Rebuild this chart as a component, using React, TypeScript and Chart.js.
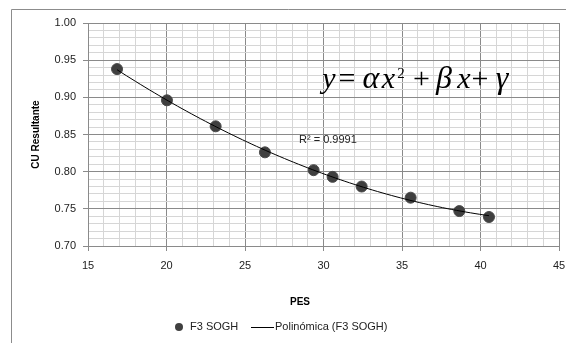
import React, { useEffect, useRef } from "react";
import { Chart, registerables } from "chart.js";

Chart.register(...registerables);

const pesValues: number[] = [16.85, 20.03, 23.13, 26.27, 29.37, 30.58, 32.43, 35.55, 38.65, 40.54];
const cuValues: number[] = [0.938, 0.896, 0.861, 0.826, 0.802, 0.793, 0.780, 0.765, 0.747, 0.739];
const seriesName = "F3 SOGH";
const trendName = "Polinómica (F3 SOGH)";
const r2Label = "R² = 0.9991";
const xTitle = "PES";
const yTitle = "CU Resultante";

// least-squares quadratic fit of the data (Excel polynomial trendline, order 2)
function quadFit(xs: number[], ys: number[]) {
  let s0 = 0, s1 = 0, s2 = 0, s3 = 0, s4 = 0, t0 = 0, t1 = 0, t2 = 0;
  for (let i = 0; i < xs.length; i++) {
    const x = xs[i], y = ys[i];
    s0 += 1; s1 += x; s2 += x * x; s3 += x * x * x; s4 += x * x * x * x;
    t0 += y; t1 += x * y; t2 += x * x * y;
  }
  const M = [
    [s4, s3, s2, t2],
    [s3, s2, s1, t1],
    [s2, s1, s0, t0],
  ];
  for (let c = 0; c < 3; c++) {
    for (let r = c + 1; r < 3; r++) {
      const f = M[r][c] / M[c][c];
      for (let k = c; k < 4; k++) M[r][k] -= f * M[c][k];
    }
  }
  const sol = [0, 0, 0];
  for (let r = 2; r >= 0; r--) {
    let v = M[r][3];
    for (let k = r + 1; k < 3; k++) v -= M[r][k] * sol[k];
    sol[r] = v / M[r][r];
  }
  return sol; // a, b, c
}

const MAJOR = "#8a8a8a";
const MINOR = "#d6d6d6";

// equation glyphs: text, style, centre offset from equation start
const eqGlyphs: [string, string, number][] = [
  ["y", "italic", 10],
  ["=", "op", 28],
  ["\u03B1", "greek", 52],
  ["x", "italic", 69.5],
  ["2", "sup", 82],
  ["+", "op", 102.5],
  ["\u03B2", "greek", 125],
  ["x", "italic", 145],
  ["+", "op", 161],
  ["\u03B3", "greek", 183],
];

const decorPlugin = {
  id: "decor",
  beforeDraw(chart: any) {
    const ctx = chart.ctx;
    ctx.save();
    ctx.fillStyle = "#ffffff";
    ctx.fillRect(0, 0, chart.width, chart.height);
    ctx.strokeStyle = "#8c8c8c";
    ctx.lineWidth = 1;
    ctx.beginPath();
    ctx.moveTo(11.5, chart.height);
    ctx.lineTo(11.5, 9.5);
    ctx.lineTo(chart.width, 9.5);
    ctx.stroke();
    ctx.restore();
  },
  afterDraw(chart: any) {
    const ctx = chart.ctx;
    ctx.save();
    // x axis title
    ctx.fillStyle = "#000";
    ctx.font = "bold 10px 'Liberation Sans', Arial, sans-serif";
    ctx.textAlign = "center";
    ctx.textBaseline = "middle";
    ctx.fillText(xTitle, 300, 302);

    // R² label
    ctx.font = "11px 'Liberation Sans', Arial, sans-serif";
    ctx.textAlign = "left";
    ctx.fillStyle = "#222";
    ctx.fillText(r2Label, 299, 140);

    // equation
    const x0 = 319;
    const base = 88;
    ctx.textBaseline = "alphabetic";
    ctx.textAlign = "center";
    ctx.fillStyle = "#000";
    for (const [t, style, dx] of eqGlyphs) {
      if (style === "sup") {
        ctx.font = "15px 'Liberation Serif', 'Times New Roman', serif";
        ctx.fillText(t, x0 + dx, base - 10);
      } else if (style === "op") {
        ctx.font = "30px 'Liberation Serif', 'Times New Roman', serif";
        ctx.fillText(t, x0 + dx, base);
      } else if (style === "greek") {
        ctx.font = "italic 32px 'Liberation Serif', 'Times New Roman', serif";
        ctx.fillText(t, x0 + dx, base);
      } else {
        ctx.font = "italic 30px 'Liberation Serif', 'Times New Roman', serif";
        ctx.fillText(t, x0 + dx, base);
      }
    }
    ctx.textAlign = "left";

    // legend
    const ly = 327;
    ctx.fillStyle = "#404040";
    ctx.beginPath();
    ctx.arc(179, ly, 4, 0, Math.PI * 2);
    ctx.fill();
    ctx.fillStyle = "#222";
    ctx.font = "11px 'Liberation Sans', Arial, sans-serif";
    ctx.textBaseline = "middle";
    ctx.fillText(seriesName, 190, ly);
    ctx.strokeStyle = "#000";
    ctx.lineWidth = 1;
    ctx.beginPath();
    ctx.moveTo(251, ly + 0.5);
    ctx.lineTo(274, ly + 0.5);
    ctx.stroke();
    ctx.fillText(trendName, 275, ly);
    ctx.restore();
  },
};

export default function App() {
  const ref = useRef<HTMLCanvasElement>(null);
  useEffect(() => {
    if (!ref.current) return;
    const [a, b, c] = quadFit(pesValues, cuValues);
    const xmin = Math.min(...pesValues);
    const xmax = Math.max(...pesValues);
    const trend: { x: number; y: number }[] = [];
    const n = 80;
    for (let i = 0; i <= n; i++) {
      const x = xmin + ((xmax - xmin) * i) / n;
      trend.push({ x, y: a * x * x + b * x + c });
    }
    const points = pesValues.map((x, i) => ({ x, y: cuValues[i] }));
    const chart = new Chart(ref.current, {
      type: "scatter",
      data: {
        datasets: [
          {
            label: trendName,
            data: trend,
            showLine: true,
            borderColor: "#000",
            borderWidth: 1,
            pointRadius: 0,
            order: 0,
          } as any,
          {
            label: seriesName,
            data: points,
            pointRadius: 5.5,
            backgroundColor: "#3f3f3f",
            borderColor: "#4a4a4a",
            borderWidth: 1,
            order: 1,
          },
        ],
      },
      options: {
        animation: false,
        responsive: false,
        devicePixelRatio: 1,
        layout: { padding: { left: 14, top: 23, right: 7, bottom: 0 } },
        plugins: { legend: { display: false }, tooltip: { enabled: false } },
        scales: {
          x: {
            type: "linear",
            min: 15,
            max: 45,
            afterFit: (s: any) => { s.height = 97; s.paddingRight = 0; s.paddingLeft = 0; },
            ticks: {
              stepSize: 1,
              autoSkip: false,
              maxRotation: 0,
              padding: 8,
              color: "#222",
              font: { family: "'Liberation Sans', Arial, sans-serif", size: 11 },
              callback: (v: any) => (Math.round(v) % 5 === 0 ? String(Math.round(v)) : ""),
            },
            grid: {
              color: (ctx: any) => (Math.round(ctx.tick.value) % 5 === 0 ? MAJOR : MINOR),
              tickColor: (ctx: any) => (Math.round(ctx.tick.value) % 5 === 0 ? MAJOR : "rgba(0,0,0,0)"),
              tickLength: 5,
              lineWidth: 1,
            },
            border: { color: MAJOR },
          },
          y: {
            type: "linear",
            min: 0.7,
            max: 1.0,
            afterFit: (s: any) => { s.width = 74; s.paddingTop = 0; s.paddingBottom = 0; },
            title: {
              display: true,
              text: yTitle,
              color: "#000",
              font: { family: "'Liberation Sans', Arial, sans-serif", size: 10, weight: "bold" },
              padding: { top: 16, bottom: 0 },
            },
            ticks: {
              stepSize: 0.01,
              autoSkip: false,
              padding: 7,
              color: "#222",
              font: { family: "'Liberation Sans', Arial, sans-serif", size: 11 },
              callback: (v: any) => (Math.round(v * 100) % 5 === 0 ? Number(v).toFixed(2) : ""),
            },
            grid: {
              color: (ctx: any) => (Math.round(ctx.tick.value * 100) % 5 === 0 ? MAJOR : MINOR),
              tickColor: (ctx: any) => (Math.round(ctx.tick.value * 100) % 5 === 0 ? MAJOR : "rgba(0,0,0,0)"),
              tickLength: 5,
              lineWidth: 1,
            },
            border: { color: MAJOR },
          },
        },
      },
      plugins: [decorPlugin],
    });
    return () => chart.destroy();
  }, []);
  return (
    <div style={{ position: "fixed", left: 0, top: 0, width: 566, height: 343 }}>
      <canvas ref={ref} width={566} height={343} style={{ width: 566, height: 343, display: "block" }} />
    </div>
  );
}
